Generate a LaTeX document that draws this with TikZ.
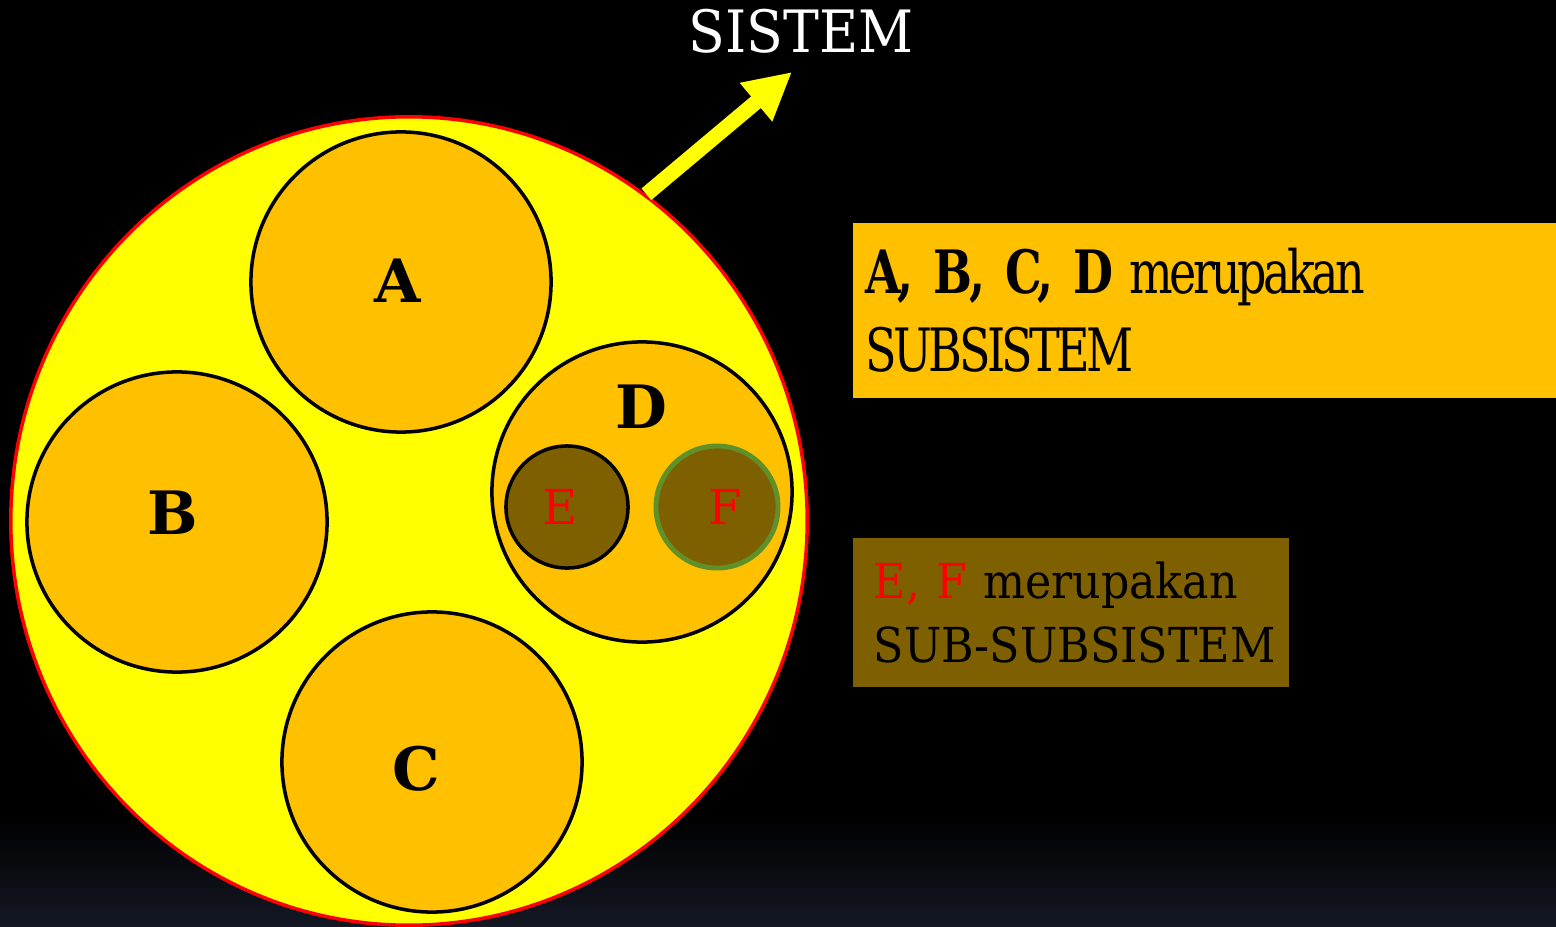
\documentclass[tikz,border=0pt]{standalone}
\usepackage{fontspec}
\setmainfont{DejaVu Serif}
\newfontfamily\titlefont[FakeStretch=0.92]{DejaVu Serif}
\newfontfamily\narrowfont[FakeStretch=0.77, LetterSpace=-6]{DejaVu Serif}
\usepackage{xcolor}
\usepackage{tikz}
\usetikzlibrary{shapes.geometric, positioning, arrows.meta}

\definecolor{sysyellow}{RGB}{255,255,0}
\definecolor{suborange}{RGB}{255,192,0}
\definecolor{subbrown}{RGB}{127,96,0}
\definecolor{subgreen}{RGB}{95,145,40}
\definecolor{bottomblue}{RGB}{20,24,36}

\begin{document}
\begin{tikzpicture}[
    x=0.01cm, y=-0.01cm,
    system/.style={draw=red, line width=1pt, ellipse, fill=sysyellow, minimum width=7.96cm, minimum height=8.08cm, inner sep=0pt},
    subsystem/.style={draw, circle, line width=1pt, fill=suborange, minimum size=3cm, inner sep=0pt},
    subsub/.style={draw, circle, line width=1pt, fill=subbrown, minimum size=1.22cm, inner sep=0pt},
    sublabel/.style={font=\bfseries\fontsize{17}{20}\selectfont},
    sslabel/.style={text=red, font=\fontsize{13.7}{16}\selectfont},
    notebox/.style={anchor=north west, align=left, inner ysep=0pt},
    sysarrow/.style={draw=sysyellow, line width=4.3pt, -{Triangle[length=4.7mm, width=4.7mm]}}
]
    \useasboundingbox (0,0) rectangle (1556,927);

    % --- Background ---
    \fill[black] (0,0) rectangle (1556,927);
    \shade[top color=black, bottom color=bottomblue] (0,815) rectangle (1556,927);

    % --- System ---
    \node[system] (system) at (409,521) {};
    \coordinate (systip) at (792,72);
    \draw[sysarrow] (system.54.8) -- (systip);
    \node[text=white, font=\titlefont\fontsize{16.6}{20}\selectfont] (systitle) at (801,31) {SISTEM};

    % --- Subsystems ---
    \node[subsystem] (a) at (401,282) {};
    \node[subsystem] (b) at (177,522) {};
    \node[subsystem] (c) at (432,762) {};
    \node[subsystem] (d) at (642,492) {};
    \node[sublabel] (alabel) at (398,281) {A};
    \node[sublabel] (blabel) at (173,513) {B};
    \node[sublabel] (clabel) at (416,769) {C};
    \node[sublabel] (dlabel) at (641,407) {D};

    % --- Sub-subsystems ---
    \node[subsub] (e) at (567,507) {};
    \node[subsub, draw=subgreen, line width=1.4pt] (f) at (717,507) {};
    \node[sslabel] (elabel) at (560,507) {E};
    \node[sslabel] (flabel) at (725,507) {F};

    % --- Notes ---
    \node[notebox, fill=suborange, minimum height=1.75cm, inner xsep=0.13cm, text width=6.78cm,
          font=\narrowfont\fontsize{17}{22}\selectfont] (subnote) at (852,222)
          {\textbf{A, B, C, D} merupakan\\SUBSISTEM};
    \node[notebox, fill=subbrown, minimum height=1.49cm, inner xsep=0.21cm, text width=3.94cm,
          font=\titlefont\fontsize{13.7}{18.2}\selectfont] (ssnote) at (852,537)
          {\textcolor{red}{E, F} merupakan\\\mbox{SUB-SUBSISTEM}};

\end{tikzpicture}
\end{document}
